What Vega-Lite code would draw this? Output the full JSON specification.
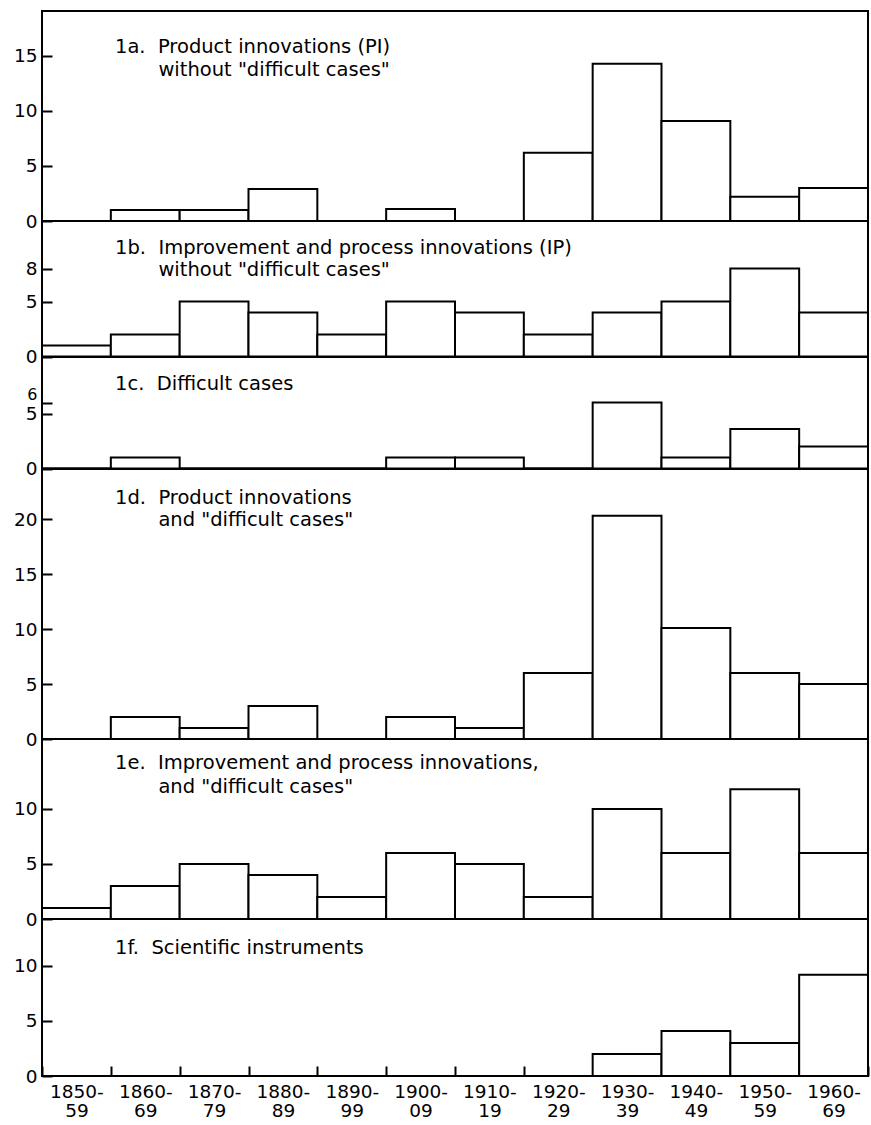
{
  "$schema": "https://vega.github.io/schema/vega-lite/v6.json",
  "background": "white",
  "padding": {"left": 12, "top": 10, "right": 2, "bottom": 5},
  "spacing": 0,
  "bounds": "flush",
  "config": {
    "font": "DejaVu Sans",
    "view": {"stroke": "black", "strokeWidth": 2},
    "axis": {"labelFont": "DejaVu Sans", "labelFontSize": 18.5, "labelColor": "black", "tickColor": "black", "tickWidth": 2, "domain": false, "grid": false},
    "title": {"font": "DejaVu Sans", "fontSize": 19.5, "fontWeight": "normal", "color": "black", "anchor": "start", "frame": "group", "baseline": "top", "dx": 73, "offset": 0}
  },
  "datasets": {
    "counts": [
      {"panel": "1a", "decade": "1850-59", "count": 0},
      {"panel": "1a", "decade": "1860-69", "count": 1},
      {"panel": "1a", "decade": "1870-79", "count": 1},
      {"panel": "1a", "decade": "1880-89", "count": 2.9},
      {"panel": "1a", "decade": "1890-99", "count": 0},
      {"panel": "1a", "decade": "1900-09", "count": 1.1},
      {"panel": "1a", "decade": "1910-19", "count": 0},
      {"panel": "1a", "decade": "1920-29", "count": 6.2},
      {"panel": "1a", "decade": "1930-39", "count": 14.3},
      {"panel": "1a", "decade": "1940-49", "count": 9.1},
      {"panel": "1a", "decade": "1950-59", "count": 2.2},
      {"panel": "1a", "decade": "1960-69", "count": 3},
      {"panel": "1b", "decade": "1850-59", "count": 1},
      {"panel": "1b", "decade": "1860-69", "count": 2},
      {"panel": "1b", "decade": "1870-79", "count": 5},
      {"panel": "1b", "decade": "1880-89", "count": 4},
      {"panel": "1b", "decade": "1890-99", "count": 2},
      {"panel": "1b", "decade": "1900-09", "count": 5},
      {"panel": "1b", "decade": "1910-19", "count": 4},
      {"panel": "1b", "decade": "1920-29", "count": 2},
      {"panel": "1b", "decade": "1930-39", "count": 4},
      {"panel": "1b", "decade": "1940-49", "count": 5},
      {"panel": "1b", "decade": "1950-59", "count": 8},
      {"panel": "1b", "decade": "1960-69", "count": 4},
      {"panel": "1c", "decade": "1850-59", "count": 0},
      {"panel": "1c", "decade": "1860-69", "count": 1},
      {"panel": "1c", "decade": "1870-79", "count": 0},
      {"panel": "1c", "decade": "1880-89", "count": 0},
      {"panel": "1c", "decade": "1890-99", "count": 0},
      {"panel": "1c", "decade": "1900-09", "count": 1},
      {"panel": "1c", "decade": "1910-19", "count": 1},
      {"panel": "1c", "decade": "1920-29", "count": 0},
      {"panel": "1c", "decade": "1930-39", "count": 6},
      {"panel": "1c", "decade": "1940-49", "count": 1},
      {"panel": "1c", "decade": "1950-59", "count": 3.6},
      {"panel": "1c", "decade": "1960-69", "count": 2},
      {"panel": "1d", "decade": "1850-59", "count": 0},
      {"panel": "1d", "decade": "1860-69", "count": 2},
      {"panel": "1d", "decade": "1870-79", "count": 1},
      {"panel": "1d", "decade": "1880-89", "count": 3},
      {"panel": "1d", "decade": "1890-99", "count": 0},
      {"panel": "1d", "decade": "1900-09", "count": 2},
      {"panel": "1d", "decade": "1910-19", "count": 1},
      {"panel": "1d", "decade": "1920-29", "count": 6},
      {"panel": "1d", "decade": "1930-39", "count": 20.3},
      {"panel": "1d", "decade": "1940-49", "count": 10.1},
      {"panel": "1d", "decade": "1950-59", "count": 6},
      {"panel": "1d", "decade": "1960-69", "count": 5},
      {"panel": "1e", "decade": "1850-59", "count": 1},
      {"panel": "1e", "decade": "1860-69", "count": 3},
      {"panel": "1e", "decade": "1870-79", "count": 5},
      {"panel": "1e", "decade": "1880-89", "count": 4},
      {"panel": "1e", "decade": "1890-99", "count": 2},
      {"panel": "1e", "decade": "1900-09", "count": 6},
      {"panel": "1e", "decade": "1910-19", "count": 5},
      {"panel": "1e", "decade": "1920-29", "count": 2},
      {"panel": "1e", "decade": "1930-39", "count": 10},
      {"panel": "1e", "decade": "1940-49", "count": 6},
      {"panel": "1e", "decade": "1950-59", "count": 11.8},
      {"panel": "1e", "decade": "1960-69", "count": 6},
      {"panel": "1f", "decade": "1850-59", "count": 0},
      {"panel": "1f", "decade": "1860-69", "count": 0},
      {"panel": "1f", "decade": "1870-79", "count": 0},
      {"panel": "1f", "decade": "1880-89", "count": 0},
      {"panel": "1f", "decade": "1890-99", "count": 0},
      {"panel": "1f", "decade": "1900-09", "count": 0},
      {"panel": "1f", "decade": "1910-19", "count": 0},
      {"panel": "1f", "decade": "1920-29", "count": 0},
      {"panel": "1f", "decade": "1930-39", "count": 2},
      {"panel": "1f", "decade": "1940-49", "count": 4.1},
      {"panel": "1f", "decade": "1950-59", "count": 3},
      {"panel": "1f", "decade": "1960-69", "count": 9.2}
    ]
  },
  "data": {"name": "counts"},
  "vconcat": [
    {
      "width": 826, "height": 210,
      "title": {"text": ["1a.\u00a0\u00a0Product innovations (PI)", "\u200b\u00a0\u00a0\u00a0\u00a0\u00a0\u00a0\u00a0without \"difficult cases\""], "dy": 73, "lineHeight": 22.5},
      "transform": [{"filter": "datum.panel == '1a'"}],
      "mark": {"type": "bar", "fill": "white", "stroke": "black", "strokeWidth": 2},
      "encoding": {
        "x": {"field": "decade", "type": "nominal", "sort": null, "scale": {"paddingInner": 0, "paddingOuter": 0}, "axis": null},
        "y": {"field": "count", "type": "quantitative", "scale": {"domain": [0, 19.09], "nice": false}, "axis": {"values": [0, 5, 10, 15], "title": null, "tickSize": -10, "labelPadding": 15, "labelOverlap": false, "labelFlush": false}}
      }
    },
    {
      "width": 826, "height": 135.5,
      "title": {"text": ["1b.\u00a0\u00a0Improvement and process innovations (IP)", "\u200b\u00a0\u00a0\u00a0\u00a0\u00a0\u00a0\u00a0without \"difficult cases\""], "dy": 63, "lineHeight": 21.5},
      "transform": [{"filter": "datum.panel == '1b'"}],
      "mark": {"type": "bar", "fill": "white", "stroke": "black", "strokeWidth": 2},
      "encoding": {
        "x": {"field": "decade", "type": "nominal", "sort": null, "scale": {"paddingInner": 0, "paddingOuter": 0}, "axis": null},
        "y": {"field": "count", "type": "quantitative", "scale": {"domain": [0, 12.32], "nice": false}, "axis": {"values": [0, 5, 8], "title": null, "tickSize": -10, "labelPadding": 15, "labelOverlap": false, "labelFlush": false}}
      }
    },
    {
      "width": 826, "height": 111.5,
      "title": {"text": "1c.\u00a0\u00a0Difficult cases", "dy": 41.5},
      "transform": [{"filter": "datum.panel == '1c'"}],
      "mark": {"type": "bar", "fill": "white", "stroke": "black", "strokeWidth": 2},
      "encoding": {
        "x": {"field": "decade", "type": "nominal", "sort": null, "scale": {"paddingInner": 0, "paddingOuter": 0}, "axis": null},
        "y": {"field": "count", "type": "quantitative", "scale": {"domain": [0, 10.14], "nice": false}, "axis": {"values": [0, 5, 6], "title": null, "tickSize": -10, "labelPadding": 15, "labelOverlap": false, "labelFlush": false,
          "labelBaseline": {"condition": {"test": "datum.value == 6", "value": "bottom"}, "value": "middle"},
          "labelFontSize": {"condition": {"test": "datum.value == 6", "value": 16}, "value": 18.5}}}
      }
    },
    {
      "width": 826, "height": 270,
      "title": {"text": ["1d.\u00a0\u00a0Product innovations", "\u200b\u00a0\u00a0\u00a0\u00a0\u00a0\u00a0\u00a0and \"difficult cases\""], "dy": 65.7, "lineHeight": 22.5},
      "transform": [{"filter": "datum.panel == '1d'"}],
      "mark": {"type": "bar", "fill": "white", "stroke": "black", "strokeWidth": 2},
      "encoding": {
        "x": {"field": "decade", "type": "nominal", "sort": null, "scale": {"paddingInner": 0, "paddingOuter": 0}, "axis": null},
        "y": {"field": "count", "type": "quantitative", "scale": {"domain": [0, 24.55], "nice": false}, "axis": {"values": [0, 5, 10, 15, 20], "title": null, "tickSize": -10, "labelPadding": 15, "labelOverlap": false, "labelFlush": false}}
      }
    },
    {
      "width": 826, "height": 180,
      "title": {"text": ["1e.\u00a0\u00a0Improvement and process innovations,", "\u200b\u00a0\u00a0\u00a0\u00a0\u00a0\u00a0\u00a0and \"difficult cases\""], "dy": 62, "lineHeight": 24},
      "transform": [{"filter": "datum.panel == '1e'"}],
      "mark": {"type": "bar", "fill": "white", "stroke": "black", "strokeWidth": 2},
      "encoding": {
        "x": {"field": "decade", "type": "nominal", "sort": null, "scale": {"paddingInner": 0, "paddingOuter": 0}, "axis": null},
        "y": {"field": "count", "type": "quantitative", "scale": {"domain": [0, 16.36], "nice": false}, "axis": {"values": [0, 5, 10], "title": null, "tickSize": -10, "labelPadding": 15, "labelOverlap": false, "labelFlush": false}}
      }
    },
    {
      "width": 826, "height": 157,
      "title": {"text": "1f.\u00a0\u00a0Scientific instruments", "dy": 43},
      "transform": [{"filter": "datum.panel == '1f'"}],
      "mark": {"type": "bar", "fill": "white", "stroke": "black", "strokeWidth": 2},
      "encoding": {
        "x": {"field": "decade", "type": "nominal", "sort": null, "scale": {"paddingInner": 0, "paddingOuter": 0},
          "axis": {"title": null, "tickBand": "extent", "tickSize": -10, "labelPadding": 16, "labelAngle": 0, "labelBaseline": "top", "labelLineHeight": 19,
            "labelExpr": "[substring(datum.label, 0, 5), substring(datum.label, 5) + '\u00a0']"}},
        "y": {"field": "count", "type": "quantitative", "scale": {"domain": [0, 14.27], "nice": false}, "axis": {"values": [0, 5, 10], "title": null, "tickSize": -10, "labelPadding": 15, "labelOverlap": false, "labelFlush": false}}
      }
    }
  ]
}
